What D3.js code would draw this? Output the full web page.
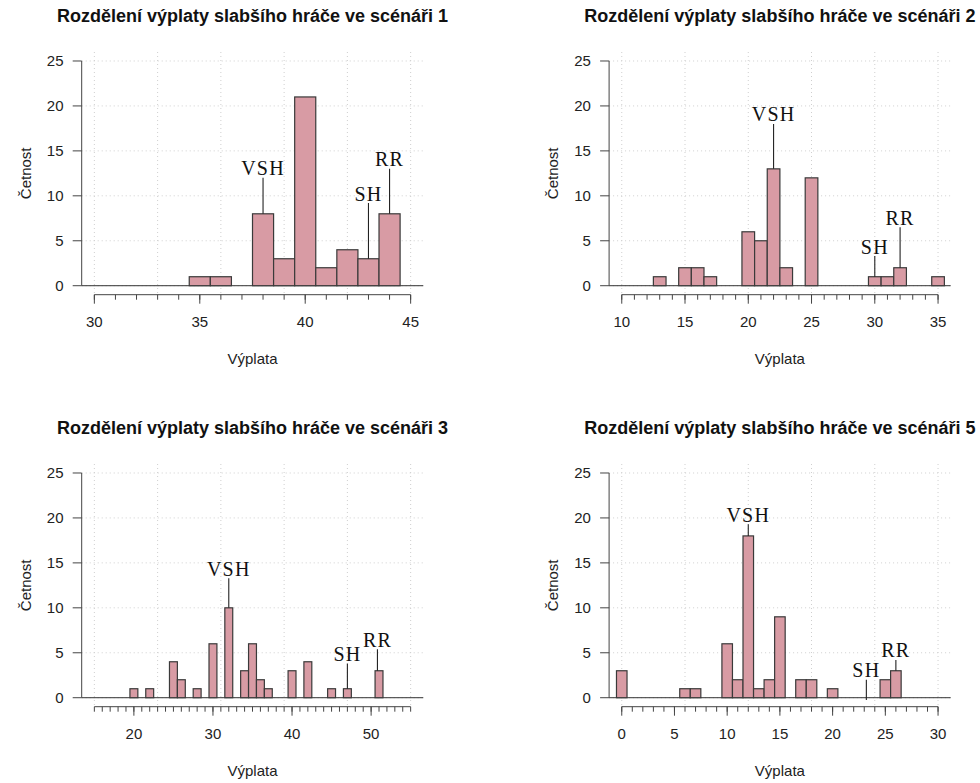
<!DOCTYPE html>
<html>
<head>
<meta charset="utf-8">
<script src="https://cdn.jsdelivr.net/npm/d3@7"></script>
<style>
body { margin: 0; background: #fff; }
svg { display: block; }
</style>
</head>
<body>
<svg id="chart" width="980" height="783"></svg>
<script>
// values
var titles = ["Rozdělení výplaty slabšího hráče ve scénáři 1",
              "Rozdělení výplaty slabšího hráče ve scénáři 2",
              "Rozdělení výplaty slabšího hráče ve scénáři 3",
              "Rozdělení výplaty slabšího hráče ve scénáři 5"];

var payoff1 = [35, 36, 38, 39, 40, 41, 42, 43, 44];
var count1  = [1, 1, 8, 3, 21, 2, 4, 3, 8];
var payoff2 = [13, 15, 16, 17, 20, 21, 22, 23, 25, 30, 31, 32, 35];
var count2  = [1, 2, 2, 1, 6, 5, 13, 2, 12, 1, 1, 2, 1];
var payoff3 = [20, 22, 25, 26, 28, 30, 32, 34, 35, 36, 37, 40, 42, 45, 47, 51];
var count3  = [1, 1, 4, 2, 1, 6, 10, 3, 6, 2, 1, 3, 4, 1, 1, 3];
var payoff5 = [0, 6, 7, 10, 11, 12, 13, 14, 15, 17, 18, 20, 25, 26];
var count5  = [3, 1, 1, 6, 2, 18, 1, 2, 9, 2, 2, 1, 2, 3];

var xDomains = [[30, 45], [10, 35], [15, 55], [0, 30]];
var xTickLabels = [[30, 35, 40, 45], [10, 15, 20, 25, 30, 35], [20, 30, 40, 50], [0, 5, 10, 15, 20, 25, 30]];
var yTickLabels = [0, 5, 10, 15, 20, 25];

// annotations: label, x, from, to
var marks1 = [["VSH", 38, 8, 12], ["SH", 43, 3, 9.2], ["RR", 44, 8, 13]];
var marks2 = [["VSH", 22, 13, 18], ["SH", 30, 1, 3.3], ["RR", 32, 2, 6.5]];
var marks3 = [["VSH", 32, 10, 13.3], ["SH", 47, 1, 3.8], ["RR", 50.8, 3, 5.4]];
var marks5 = [["VSH", 12, 18, 19.3], ["SH", 23.2, -0.25, 2.0], ["RR", 26, 3, 4.2]];

var payoffs = [payoff1, payoff2, payoff3, payoff5];
var counts = [count1, count2, count3, count5];
var marks = [marks1, marks2, marks3, marks5];

var svg = d3.select("#chart");
var W = 341.6, H = 242.7;
var origins = [[81.7, 52], [609.1, 52], [81.7, 464], [609.1, 464]];
var sans = "'Liberation Sans', Arial, Helvetica, sans-serif";
var serif = "'Liberation Serif', 'Times New Roman', serif";

for (var p = 0; p < 4; p++) {
	var d0 = xDomains[p][0], d1 = xDomains[p][1];
	var pad = (d1 - d0) * 0.04;
	var x = d3.scaleLinear().domain([d0 - pad, d1 + pad]).range([0, W]);
	var y = d3.scaleLinear().domain([-1, 26]).range([H, 0]);

	var g = svg.append("g")
		.attr("transform", "translate(" + origins[p][0] + "," + origins[p][1] + ")");

	// grid, 5 cells over the axis range
	var gridX = d3.range(6).map(function(k){ return d0 + k * (d1 - d0) / 5; });
	g.selectAll(".gx").data(gridX).enter().append("line")
		.attr("x1", function(d){ return x(d); }).attr("x2", function(d){ return x(d); })
		.attr("y1", 0).attr("y2", H)
		.attr("stroke", "#cfcfcf").attr("stroke-dasharray", "1,3");
	g.selectAll(".gy").data(yTickLabels).enter().append("line")
		.attr("x1", 0).attr("x2", W)
		.attr("y1", function(d){ return y(d); }).attr("y2", function(d){ return y(d); })
		.attr("stroke", "#cfcfcf").attr("stroke-dasharray", "1,3");

	// baseline
	g.append("line")
		.attr("x1", 0).attr("x2", W).attr("y1", y(0)).attr("y2", y(0))
		.attr("stroke", "#333").attr("stroke-width", 1);

	// bars
	var bars = payoffs[p].map(function(v, i){ return {v: v, c: counts[p][i]}; });
	g.selectAll(".bar").data(bars).enter().append("rect")
		.attr("x", function(d){ return x(d.v - 0.5); })
		.attr("width", function(d){ return x(d.v + 0.5) - x(d.v - 0.5); })
		.attr("y", function(d){ return y(d.c); })
		.attr("height", function(d){ return y(0) - y(d.c); })
		.attr("fill", "#d89ba4")
		.attr("stroke", "#3a3a3a")
		.attr("stroke-width", 1.2);

	// annotation sticks and labels
	var ann = g.selectAll(".ann").data(marks[p]).enter().append("g");
	ann.append("line")
		.attr("x1", function(d){ return x(d[1]); }).attr("x2", function(d){ return x(d[1]); })
		.attr("y1", function(d){ return y(d[2]); }).attr("y2", function(d){ return y(d[3]); })
		.attr("stroke", "#222").attr("stroke-width", 1.1);
	ann.append("text")
		.attr("x", function(d){ return x(d[1]); })
		.attr("y", function(d){ return y(d[3]) - 2.5; })
		.attr("text-anchor", "middle")
		.attr("font-family", serif)
		.attr("font-size", "20px")
		.attr("letter-spacing", "1.2px")
		.attr("fill", "#111")
		.text(function(d){ return d[0]; });

	// x axis: minor ticks every unit, longer ticks at labels
	var xAxis = g.append("g").attr("transform", "translate(0," + H + ")");
	xAxis.append("line")
		.attr("x1", x(d0)).attr("x2", x(d1)).attr("y1", 0).attr("y2", 0)
		.attr("stroke", "#444");
	xAxis.selectAll(".mt").data(d3.range(d0, d1 + 1)).enter().append("line")
		.attr("x1", function(d){ return x(d); }).attr("x2", function(d){ return x(d); })
		.attr("y1", 0).attr("y2", 5).attr("stroke", "#444");
	xAxis.selectAll(".Mt").data(xTickLabels[p]).enter().append("line")
		.attr("x1", function(d){ return x(d); }).attr("x2", function(d){ return x(d); })
		.attr("y1", 0).attr("y2", 9).attr("stroke", "#444");
	xAxis.selectAll(".tl").data(xTickLabels[p]).enter().append("text")
		.attr("x", function(d){ return x(d); })
		.attr("y", 32.6)
		.attr("text-anchor", "middle")
		.attr("font-family", sans).attr("font-size", "15px").attr("fill", "#222")
		.text(function(d){ return d; });

	// y axis
	var yAxis = g.append("g");
	yAxis.append("line")
		.attr("x1", 0).attr("x2", 0).attr("y1", y(0)).attr("y2", y(25))
		.attr("stroke", "#444");
	yAxis.selectAll(".yt").data(yTickLabels).enter().append("line")
		.attr("x1", -9).attr("x2", 0)
		.attr("y1", function(d){ return y(d); }).attr("y2", function(d){ return y(d); })
		.attr("stroke", "#444");
	yAxis.selectAll(".yl").data(yTickLabels).enter().append("text")
		.attr("x", -18.2)
		.attr("y", function(d){ return y(d); })
		.attr("dy", "0.36em")
		.attr("text-anchor", "end")
		.attr("font-family", sans).attr("font-size", "15px").attr("fill", "#222")
		.text(function(d){ return d; });

	// titles and axis names
	g.append("text")
		.attr("x", W / 2).attr("y", -30)
		.attr("text-anchor", "middle")
		.attr("font-family", sans).attr("font-size", "18px").attr("font-weight", "bold")
		.attr("fill", "#111")
		.text(titles[p]);
	g.append("text")
		.attr("x", W / 2).attr("y", 312.3)
		.attr("text-anchor", "middle")
		.attr("font-family", sans).attr("font-size", "15px").attr("fill", "#222")
		.text("Výplata");
	g.append("text")
		.attr("transform", "translate(-50.7," + (H / 2) + ") rotate(-90)")
		.attr("text-anchor", "middle")
		.attr("font-family", sans).attr("font-size", "15px").attr("fill", "#222")
		.text("Četnost");
}
</script>
</body>
</html>
